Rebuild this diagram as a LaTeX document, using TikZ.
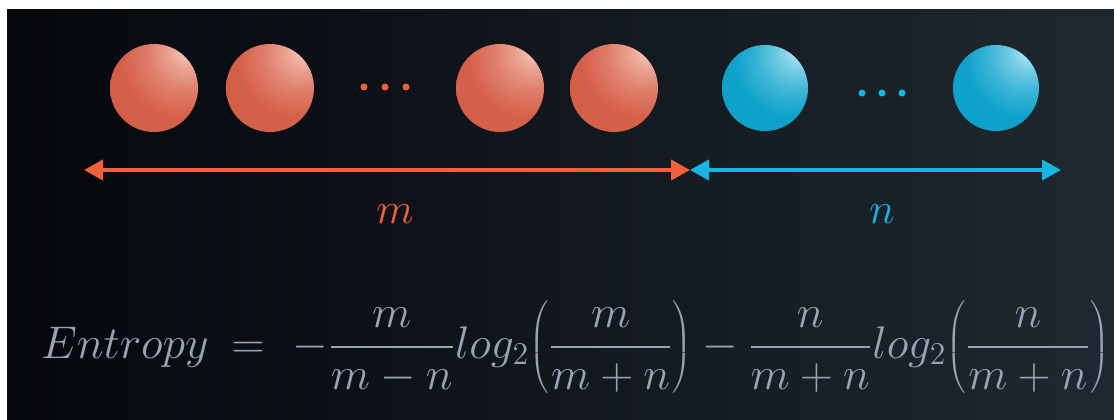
\documentclass[tikz,border=0pt]{standalone}
\usetikzlibrary{arrows.meta}
\definecolor{omain}{HTML}{D5604A}
\definecolor{ohl}{HTML}{F6C6B8}
\definecolor{bmain}{HTML}{0EA2CA}
\definecolor{bhl}{HTML}{B0E6F4}
\definecolor{oline}{HTML}{F0603C}
\definecolor{bline}{HTML}{16B6E2}
\definecolor{ftext}{HTML}{96A4B6}
\definecolor{bgL}{HTML}{05070C}
\definecolor{bgM}{HTML}{0D131A}
\definecolor{bgR}{HTML}{1F2830}
\pgfdeclareradialshading{orangeball}{\pgfpoint{21bp}{23bp}}{color(0bp)=(ohl); color(3bp)=(ohl); color(10bp)=(ohl!65!omain); color(20bp)=(ohl!30!omain); color(32bp)=(omain); color(100bp)=(omain)}
\pgfdeclareradialshading{blueball}{\pgfpoint{21bp}{23bp}}{color(0bp)=(bhl); color(3bp)=(bhl); color(10bp)=(bhl!65!bmain); color(20bp)=(bhl!30!bmain); color(32bp)=(bmain); color(100bp)=(bmain)}
\newcommand{\myfrac}[2]{{#1\above 0.9pt #2}}
\tikzset{
  oball/.style={circle, minimum size=88pt, inner sep=0pt, shade, shading=orangeball},
  bball/.style={circle, minimum size=86pt, inner sep=0pt, shade, shading=blueball},
  odot/.style={circle, fill=oline, minimum size=7pt, inner sep=0pt},
  bdot/.style={circle, fill=bline, minimum size=7pt, inner sep=0pt},
  oarrow/.style={draw=oline, fill=oline, line width=4pt, {Triangle[length=19pt,width=20pt]}-{Triangle[length=19pt,width=20pt]}},
  barrow/.style={draw=bline, fill=bline, line width=4pt, {Triangle[length=19pt,width=20pt]}-{Triangle[length=19pt,width=20pt]}},
  lbl/.style={inner sep=0pt, anchor=base, font=\fontsize{20.74}{25}\selectfont},
}
\begin{document}
\begin{tikzpicture}[x=1pt,y=-1pt]
\useasboundingbox (0,0) rectangle (1114,420);
\fill[white] (0,0) rectangle (1114,420);
\shade[left color=bgL, middle color=bgM, right color=bgR] (7,10) rectangle (1114,420);
% spheres
\node[oball] (o1) at (154,88) {};
\node[oball] (o2) at (270,88) {};
\node[odot] (od1) at (364,87) {};
\node[odot] (od2) at (385,87) {};
\node[odot] (od3) at (406,87) {};
\node[oball] (o3) at (500,88) {};
\node[oball] (o4) at (614,88) {};
\node[bball] (b1) at (765,88) {};
\node[bdot] (bd1) at (862,93) {};
\node[bdot] (bd2) at (882,93) {};
\node[bdot] (bd3) at (902,93) {};
\node[bball] (b2) at (996,88) {};
% arrows
\coordinate (aL) at (84,170);
\coordinate (aM) at (690,170);
\coordinate (aR) at (1061,170);
\draw[oarrow] (aL) -- (aM);
\draw[barrow] (aM) -- (aR);
% labels
\node[lbl, text=oline] (m) at (395,223) {\scalebox{2.1}{$m$}};
\node[lbl, text=bline] (n) at (882,223) {\scalebox{2.1}{$n$}};
% formula
\node[anchor=base west, inner sep=0pt, text=ftext] (eq) at (41,358)
  {\fontsize{20.74}{25}\selectfont\resizebox{1068pt}{!}{$\displaystyle Entropy\mkern4mu=\mkern6mu-\myfrac{m}{m-n}log_2{\left(\myfrac{m}{m+n}\right)}-\myfrac{n}{m+n}log_2{\left(\myfrac{n}{m+n}\right)}$}};
\end{tikzpicture}
\end{document}
